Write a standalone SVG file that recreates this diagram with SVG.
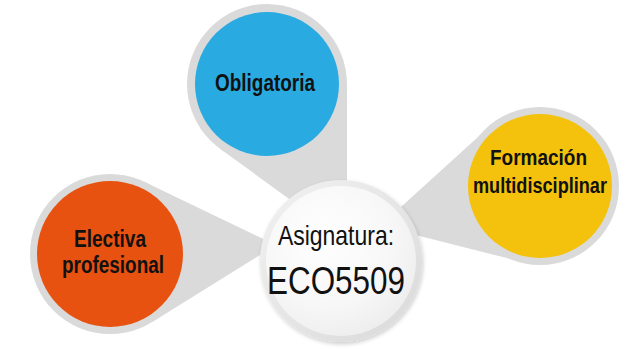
<svg xmlns="http://www.w3.org/2000/svg" width="633" height="350" viewBox="0 0 633 350">
  <defs>
    <radialGradient id="centerFill" cx="0.4" cy="0.35" r="0.75">
      <stop offset="0" stop-color="#ffffff"/>
      <stop offset="0.6" stop-color="#f7f7f7"/>
      <stop offset="1" stop-color="#ebebeb"/>
    </radialGradient>
    <linearGradient id="centerRing" x1="0" y1="0" x2="1" y2="1">
      <stop offset="0" stop-color="#f2f2f2"/>
      <stop offset="1" stop-color="#d9d9d9"/>
    </linearGradient>
    <filter id="shadow" x="-20%" y="-20%" width="140%" height="140%">
      <feGaussianBlur in="SourceAlpha" stdDeviation="2"/>
      <feOffset dx="1" dy="2" result="b"/>
      <feComponentTransfer><feFuncA type="linear" slope="0.2"/></feComponentTransfer>
      <feMerge><feMergeNode/><feMergeNode in="SourceGraphic"/></feMerge>
    </filter>
  </defs>
  <style>
    .pin { fill: #dadada; }
    .lbl { font-family: "Liberation Sans", Arial, sans-serif; font-weight: bold; fill: #111111; text-anchor: middle; }
    .ctr { font-family: "Liberation Sans", Arial, sans-serif; fill: #111111; text-anchor: middle; }
  </style>

  <g id="connectors">
    <polygon class="pin" points="347,84 347,241 220,148.7"/>
    <polygon class="pin" points="144.7,181.9 276,245 152.3,321.9"/>
    <polygon class="pin" points="487.6,128.2 380,226 520.8,261.6"/>
  </g>

  <g id="obligatoria">
    <circle class="pin" cx="267" cy="84" r="80"/>
    <circle cx="267" cy="84" r="72" fill="#29abe2"/>
    <text class="lbl" x="265" y="91" font-size="24" textLength="100" lengthAdjust="spacingAndGlyphs">Obligatoria</text>
  </g>

  <g id="electiva">
    <circle class="pin" cx="110" cy="254" r="80"/>
    <circle cx="110" cy="254" r="73" fill="#e85211"/>
    <text class="lbl" x="110" y="247" font-size="23" textLength="72" lengthAdjust="spacingAndGlyphs">Electiva</text>
    <text class="lbl" x="113" y="273" font-size="23" textLength="102" lengthAdjust="spacingAndGlyphs">profesional</text>
  </g>

  <g id="formacion">
    <circle class="pin" cx="540" cy="186" r="79"/>
    <circle cx="540" cy="186" r="72" fill="#f4c20d"/>
    <text class="lbl" x="538.5" y="165" font-size="22" textLength="97" lengthAdjust="spacingAndGlyphs">Formación</text>
    <text class="lbl" x="540" y="193" font-size="22" textLength="134" lengthAdjust="spacingAndGlyphs">multidisciplinar</text>
  </g>

  <g id="asignatura">
    <circle cx="341" cy="261" r="81" fill="url(#centerRing)" filter="url(#shadow)"/>
    <circle cx="341" cy="261" r="75" fill="url(#centerFill)"/>
    <text class="ctr" x="336" y="245" font-size="28" textLength="116" lengthAdjust="spacingAndGlyphs">Asignatura:</text>
    <text class="ctr" x="336" y="294" font-size="38" textLength="138" lengthAdjust="spacingAndGlyphs">ECO5509</text>
  </g>
</svg>
